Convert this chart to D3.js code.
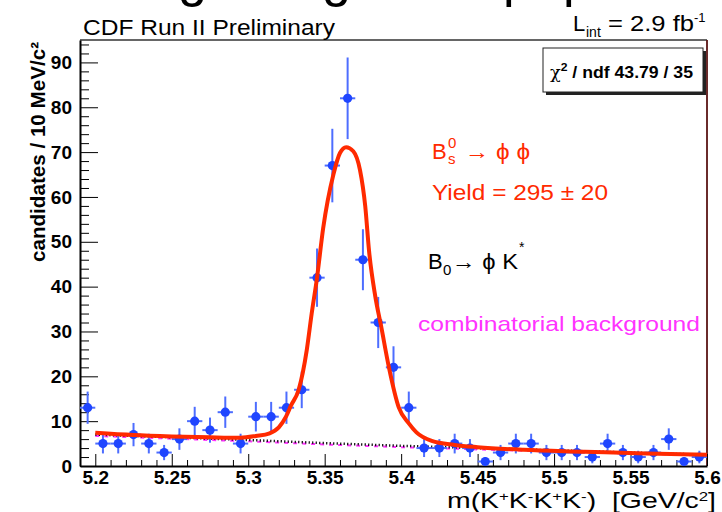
<!DOCTYPE html>
<html><head><meta charset="utf-8">
<script src="https://cdn.jsdelivr.net/npm/d3@7"></script>
<style>
html,body{margin:0;padding:0;background:#fff;}
svg{display:block;font-family:"Liberation Sans",Arial,Helvetica,sans-serif;}
</style></head>
<body><svg id="c" width="722" height="512"></svg>
<script>
// ---- data ----
const binCenters = [5.195,5.205,5.215,5.225,5.235,5.245,5.255,5.265,5.275,5.285,5.295,5.305,5.315,5.325,5.335,5.345,5.355,5.365,5.375,5.385,5.395,5.405,5.415,5.425,5.435,5.445,5.455,5.465,5.475,5.485,5.495,5.505,5.515,5.525,5.535,5.545,5.555,5.565,5.575,5.585,5.595];
const counts = [13,5,5,7,5,3,6,10,8,12,5,11,11,13,17,42,67,82,46,32,22,13,4,4,5,4,1,3,5,5,3,3,3,2,5,3,2,3,6,1,2];
const countErr = [3.6,2.2,2.2,2.6,2.2,1.7,2.4,3.2,2.8,3.5,2.2,3.3,3.3,3.6,4.1,6.5,8.2,9.1,6.8,5.7,4.7,3.6,2,2,2.2,2,1,1.7,2.2,2.2,1.7,1.7,1.7,1.4,2.2,1.7,1.4,1.7,2.4,1,1.4];
const binHalfWidth = 0.005;
const fitX = [5.200,5.225,5.250,5.275,5.295,5.305,5.314,5.320,5.3247,5.328,5.333,5.3383,5.3415,5.345,5.349,5.3557,5.360,5.364,5.3687,5.3731,5.3765,5.379,5.383,5.387,5.392,5.3985,5.405,5.410,5.420,5.435,5.450,5.480,5.520,5.560,5.600];
const fitY = [7.4,6.9,6.6,6.4,6.3,6.7,7.3,8.6,11,13.5,17,25.9,34,42,53,65,69.8,71.1,70.2,66,58,48,38,31,22,13,9.5,7.5,5.6,4.7,4.2,3.6,3.2,2.8,2.5];
const bkgX = [5.20,5.25,5.30,5.35,5.40,5.45,5.50,5.55,5.60];
const bkgY = [7.0,6.4,5.8,5.1,4.5,4.0,3.5,3.0,2.5];
const combY = [6.7,6.1,5.5,4.8,4.2,3.7,3.2,2.8,2.3];
const xMajorTicks = [5.2,5.25,5.3,5.35,5.4,5.45,5.5,5.55,5.6];
const xTickLabels = ["5.2","5.25","5.3","5.35","5.4","5.45","5.5","5.55","5.6"];
const yMajorTicks = [0,10,20,30,40,50,60,70,80,90];

// ---- layout ----
const svg = d3.select("#c");
const L=80, R=707, T=40, B=466;
const x = d3.scaleLinear().domain([5.19,5.60]).range([L,R]);
const y = d3.scaleLinear().domain([0,95]).range([B,T]);
const red = "#ff2a00", blue="#1f45ff", blueBar="#4d6dff";

// top cut-off slide title fragments
const topG = svg.append("g").attr("font-size",52).attr("fill","#000");
[["g",178],["g",322],["p",503],["p",563]].forEach(d=>{
  topG.append("text").attr("x",d[1]).attr("y",-4).text(d[0]);
});

// frame
svg.append("line").attr("x1",L).attr("x2",R).attr("y1",T).attr("y2",T).attr("stroke","#333").attr("stroke-width",1.4);
svg.append("line").attr("x1",R).attr("x2",R).attr("y1",T).attr("y2",B).attr("stroke","#5a1414").attr("stroke-width",1.8);

// axes
const xMinor = d3.range(5.19,5.6001,0.01).map(v=>+v.toFixed(3)).filter(v=>!xMajorTicks.some(m=>Math.abs(m-v)<1e-6));
svg.append("g").attr("transform",`translate(0,${B})`)
  .call(d3.axisBottom(x).tickValues(xMinor).tickSize(-6).tickFormat(""))
  .call(g=>{g.select(".domain").remove(); g.selectAll("line").attr("stroke","#000");});
const xAx = svg.append("g").attr("transform",`translate(0,${B})`)
  .call(d3.axisBottom(x).tickValues(xMajorTicks).tickSizeInner(-12).tickSizeOuter(0).tickPadding(7)
     .tickFormat((d,i)=>xTickLabels[i]));
xAx.select(".domain").attr("stroke","#000").attr("stroke-width",2);
xAx.selectAll("line").attr("stroke","#000");
xAx.selectAll("text").attr("font-size",19).attr("font-weight","bold").attr("fill","#000")
  .attr("font-family","Liberation Sans,Arial,sans-serif").attr("dy","0.6em");

const yMinor = d3.range(0,95.01,2).filter(v=>v%10!==0);
svg.append("g").attr("transform",`translate(${L},0)`)
  .call(d3.axisLeft(y).tickValues(yMinor).tickSize(-9).tickFormat(""))
  .call(g=>{g.select(".domain").remove(); g.selectAll("line").attr("stroke","#000");});
const yAx = svg.append("g").attr("transform",`translate(${L},0)`)
  .call(d3.axisLeft(y).tickValues(yMajorTicks).tickSizeInner(-18).tickSizeOuter(0).tickPadding(8));
yAx.select(".domain").attr("stroke","#000").attr("stroke-width",2);
yAx.selectAll("line").attr("stroke","#000");
yAx.selectAll("text").attr("font-size",19).attr("font-weight","bold").attr("fill","#000")
  .attr("font-family","Liberation Sans,Arial,sans-serif");

// background lines
const line = d3.line().x(d=>x(d[0])).y(d=>y(d[1]));
svg.append("path").datum(bkgX.map((v,i)=>[v,combY[i]])).attr("d",line)
  .attr("fill","none").attr("stroke","#ff33ff").attr("stroke-width",2).attr("stroke-dasharray","4,5");
svg.append("path").datum(bkgX.map((v,i)=>[v,bkgY[i]])).attr("d",line)
  .attr("fill","none").attr("stroke","#000").attr("stroke-width",2.5).attr("stroke-dasharray","1.2,2.3");

// data points
const pts = svg.append("g");
binCenters.forEach((c,i)=>{
  const v=counts[i], e=countErr[i];
  pts.append("line").attr("x1",x(c-binHalfWidth)).attr("x2",x(c+binHalfWidth)).attr("y1",y(v)).attr("y2",y(v))
    .attr("stroke",blueBar).attr("stroke-width",2);
  pts.append("line").attr("x1",x(c)).attr("x2",x(c)).attr("y1",y(Math.max(0,v-e))).attr("y2",y(v+e))
    .attr("stroke",blueBar).attr("stroke-width",2);
  pts.append("circle").attr("cx",x(c)).attr("cy",y(v)).attr("r",4.6).attr("fill",blue);
});

// fit curve
svg.append("path").datum(fitX.map((v,i)=>[v,fitY[i]]))
  .attr("d",d3.line().x(d=>x(d[0])).y(d=>y(d[1])).curve(d3.curveMonotoneX))
  .attr("fill","none").attr("stroke",red).attr("stroke-width",4).attr("stroke-linejoin","round");

// header texts
svg.append("text").attr("x",83).attr("y",35).attr("font-size",22).attr("textLength",252)
  .attr("lengthAdjust","spacingAndGlyphs").text("CDF Run II Preliminary");
const lint = svg.append("g").attr("font-size",22);
lint.append("text").attr("x",573).attr("y",31).text("L");
lint.append("text").attr("x",586).attr("y",37).attr("font-size",14).text("int");
lint.append("text").attr("x",608).attr("y",31).attr("textLength",86).attr("lengthAdjust","spacingAndGlyphs").text("= 2.9 fb");
lint.append("text").attr("x",694).attr("y",22).attr("font-size",13).text("-1");

// stats box
svg.append("rect").attr("x",546).attr("y",51).attr("width",160).attr("height",44).attr("fill","#222");
svg.append("rect").attr("x",543).attr("y",48).attr("width",160).attr("height",44).attr("fill","#fff").attr("stroke","#222").attr("stroke-width",1);
const st = svg.append("text").attr("x",550).attr("y",78).attr("font-size",16).attr("font-weight","bold")
  .attr("textLength",143).attr("lengthAdjust","spacingAndGlyphs");
st.append("tspan").attr("font-weight","normal").attr("font-family","DejaVu Serif,serif").text("χ");
st.append("tspan").attr("font-size",11).attr("dy",-7).text("2");
st.append("tspan").attr("dy",7).text(" / ndf 43.79 / 35");

// legend texts
const lg1 = svg.append("g").attr("fill",red).attr("font-size",22);
lg1.append("text").attr("x",432).attr("y",159).text("B");
lg1.append("text").attr("x",448).attr("y",148).attr("font-size",15).text("0");
lg1.append("text").attr("x",448).attr("y",164).attr("font-size",15).text("s");
lg1.append("text").attr("x",465).attr("y",159).attr("textLength",65).attr("lengthAdjust","spacingAndGlyphs").text("→ ϕ ϕ");
lg1.append("text").attr("x",432).attr("y",200).attr("textLength",176).attr("lengthAdjust","spacingAndGlyphs").text("Yield = 295 ± 20");

const lg2 = svg.append("g").attr("fill","#000").attr("font-size",22);
lg2.append("text").attr("x",428).attr("y",269).text("B");
lg2.append("text").attr("x",443).attr("y",275).attr("font-size",15).text("0");
lg2.append("text").attr("x",452).attr("y",269).attr("textLength",66).attr("lengthAdjust","spacingAndGlyphs").text("→ ϕ K");
lg2.append("text").attr("x",519).attr("y",252).attr("font-size",14).text("*");

svg.append("text").attr("x",418).attr("y",331).attr("font-size",21).attr("fill","#ff33ff")
  .attr("textLength",282).attr("lengthAdjust","spacingAndGlyphs").text("combinatorial background");

// axis titles
svg.append("text").attr("transform","translate(45,42) rotate(-90)").attr("text-anchor","end")
  .attr("font-size",20).attr("font-weight","bold").attr("textLength",220).attr("lengthAdjust","spacingAndGlyphs")
  .text("candidates / 10 MeV/c²");
const xt = svg.append("text").attr("x",447).attr("y",508).attr("font-size",22)
  .attr("textLength",269).attr("lengthAdjust","spacingAndGlyphs");
xt.append("tspan").text("m(K");
xt.append("tspan").attr("font-size",13).attr("dy",-7).text("+");
xt.append("tspan").attr("dy",7).text("K");
xt.append("tspan").attr("font-size",13).attr("dy",-7).text("-");
xt.append("tspan").attr("dy",7).text("K");
xt.append("tspan").attr("font-size",13).attr("dy",-7).text("+");
xt.append("tspan").attr("dy",7).text("K");
xt.append("tspan").attr("font-size",13).attr("dy",-7).text("-");
xt.append("tspan").attr("dy",7).text(")\u00a0\u00a0[GeV/c");
xt.append("tspan").attr("font-size",13).attr("dy",-7).text("2");
xt.append("tspan").attr("dy",7).text("]");
</script></body></html>
